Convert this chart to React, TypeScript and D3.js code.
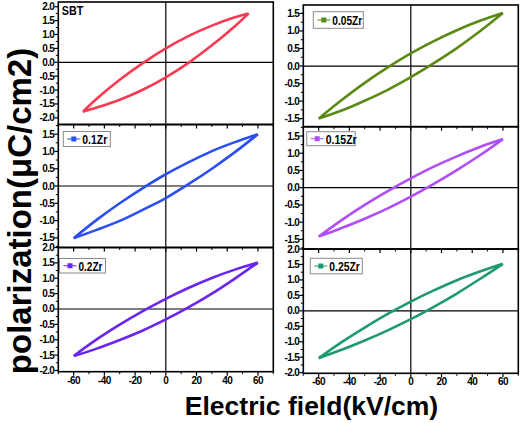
import React from "react";
import * as d3 from "d3";

// ---------- data ----------
const seriesNames = ["SBT", "0.05Zr", "0.1Zr", "0.15Zr", "0.2Zr", "0.25Zr"];
const seriesColors = ["#f83a52", "#5a8a14", "#2b4ef5", "#b04ef7", "#6b26ee", "#1f9970"];

// loop field values (kV/cm): upper branch +Emax -> -Emax, then lower branch back
const fieldSBT = [54, 45, 30, 15, 0, -15, -30, -45, -54, -45, -30, -15, 0, 15, 30, 45, 54];
const fieldZr = [60, 45, 30, 15, 0, -15, -30, -45, -60, -45, -30, -15, 0, 15, 30, 45, 60];

// polarization (µC/cm²)
const polSBT = [1.76, 1.62, 1.32, 0.95, 0.5, -0.03, -0.63, -1.31, -1.78, -1.63, -1.35, -0.99, -0.54, -0.01, 0.61, 1.3, 1.76];
const pol005 = [1.51, 1.29, 1.02, 0.71, 0.36, -0.04, -0.48, -0.97, -1.5, -1.27, -0.99, -0.68, -0.32, 0.08, 0.51, 0.99, 1.51];
const pol010 = [1.5, 1.27, 1.01, 0.69, 0.34, -0.06, -0.5, -0.98, -1.51, -1.27, -1.01, -0.69, -0.35, 0.06, 0.5, 0.98, 1.5];
const pol015 = [1.41, 1.18, 0.91, 0.61, 0.27, -0.1, -0.5, -0.94, -1.42, -1.17, -0.9, -0.6, -0.26, 0.11, 0.51, 0.94, 1.41];
const pol020 = [1.51, 1.28, 1.01, 0.69, 0.33, -0.07, -0.51, -0.99, -1.53, -1.29, -1.01, -0.7, -0.34, 0.06, 0.5, 0.99, 1.51];
const pol025 = [1.52, 1.27, 0.99, 0.66, 0.3, -0.1, -0.54, -1.01, -1.53, -1.26, -0.96, -0.63, -0.27, 0.13, 0.56, 1.03, 1.52];

const seriesFields = [fieldSBT, fieldZr, fieldZr, fieldZr, fieldZr, fieldZr];
const seriesPols = [polSBT, pol005, pol010, pol015, pol020, pol025];

const xTickValues = [-60, -40, -20, 0, 20, 40, 60];
const xTickLabels = ["-60", "-40", "-20", "0", "20", "40", "60"];
const yTicksWide = [-2, -1.5, -1, -0.5, 0, 0.5, 1, 1.5, 2];
const yTicksNarrow = [-1.5, -1, -0.5, 0, 0.5, 1, 1.5];

// ---------- layout ----------
const W = 520, H = 423;
const colRanges: [number, number][] = [[58.3, 273.3], [303.3, 518.3]];
const xDomain: [number, number] = [-70, 70];
type Panel = { col: number; top: number; bottom: number; yd: [number, number]; ticks: number[]; legend: { dx: number; dy: number; w: number; h: number; tw: number } | null; bottomRow: boolean };
const panels: Panel[] = [
  { col: 0, top: 2, bottom: 124.5, yd: [-2.24, 2.17], ticks: yTicksWide, legend: null, bottomRow: false },
  { col: 1, top: 5, bottom: 126.7, yd: [-1.73, 1.74], ticks: yTicksNarrow, legend: { dx: 10, dy: 6.7, w: 50, h: 16.6, tw: 30 }, bottomRow: false },
  { col: 0, top: 124.5, bottom: 247.5, yd: [-1.78, 1.78], ticks: yTicksNarrow, legend: { dx: 5, dy: 7, w: 47, h: 15, tw: 25 }, bottomRow: false },
  { col: 1, top: 126.7, bottom: 249, yd: [-1.78, 1.77], ticks: yTicksNarrow, legend: { dx: 3.4, dy: 5, w: 48.5, h: 14, tw: 31 }, bottomRow: false },
  { col: 0, top: 247.5, bottom: 371.7, yd: [-2.04, 2.0], ticks: yTicksWide, legend: { dx: 1.2, dy: 11, w: 46, h: 14.5, tw: 24 }, bottomRow: true },
  { col: 1, top: 249, bottom: 373.3, yd: [-2.02, 2.0], ticks: yTicksWide, legend: { dx: 7, dy: 9.3, w: 52, h: 15.5, tw: 30.5 }, bottomRow: true },
];

const FONT = "'Liberation Sans', Arial, Helvetica, sans-serif";

function PanelView({ p, i }: { p: Panel; i: number }) {
  const [x0, x1] = colRanges[p.col];
  const x = d3.scaleLinear().domain(xDomain).range([x0, x1]);
  const y = d3.scaleLinear().domain(p.yd).range([p.bottom, p.top]);
  const E = seriesFields[i];
  const P = seriesPols[i];
  const pts: [number, number][] = E.map((e, k) => [e, P[k]]);
  const line = d3
    .line<[number, number]>()
    .x((d) => x(d[0]))
    .y((d) => y(d[1]))
    .curve(d3.curveCatmullRom.alpha(0.5));
  const half = Math.floor(pts.length / 2);
  const d = (line(pts.slice(0, half + 1)) || "") + (line(pts.slice(half)) || "");
  const color = seriesColors[i];

  const minorY: number[] = [];
  for (let v = -2.25; v <= 2.26; v += 0.25) {
    const vv = Math.round(v * 100) / 100;
    if (vv >= p.yd[0] && vv <= p.yd[1] && Math.abs((vv * 2) % 1) > 0.01) minorY.push(vv);
  }
  const minorX = [-70, -50, -30, -10, 10, 30, 50, 70];

  return (
    <g>
      {/* zero lines */}
      <line x1={x0} x2={x1} y1={y(0)} y2={y(0)} stroke="#000" strokeWidth={1.2} />
      <line x1={x(0)} x2={x(0)} y1={p.top} y2={p.bottom} stroke="#000" strokeWidth={1.2} />
      {/* data */}
      <path d={d} fill="none" stroke={color} strokeWidth={2.6} strokeLinejoin="round" />
      {/* frame */}
      <rect x={x0} y={p.top} width={x1 - x0} height={p.bottom - p.top} fill="none" stroke="#000" strokeWidth={1.6} />
      {/* y ticks */}
      {p.ticks.map((t) => (
        <g key={"yt" + t}>
          <line x1={x0 - 4} x2={x0} y1={y(t)} y2={y(t)} stroke="#000" strokeWidth={1.2} />
          <text x={x0 - 4} y={y(t) + 3.5} textAnchor="end" fontFamily={FONT} fontWeight="bold" fontSize={10} letterSpacing={-0.6} fill="#000">
            {t.toFixed(1)}
          </text>
        </g>
      ))}
      {minorY.map((t) => (
        <line key={"ym" + t} x1={x0 - 2.5} x2={x0} y1={y(t)} y2={y(t)} stroke="#000" strokeWidth={1} />
      ))}
      {/* x ticks (outward, bottom) */}
      {xTickValues.map((t) => (
        <line key={"xt" + t} x1={x(t)} x2={x(t)} y1={p.bottom} y2={p.bottom + 4} stroke="#000" strokeWidth={1.2} />
      ))}
      {minorX.map((t) => (
        <line key={"xm" + t} x1={x(t)} x2={x(t)} y1={p.bottom} y2={p.bottom + 2.5} stroke="#000" strokeWidth={1} />
      ))}
      {p.bottomRow &&
        xTickValues.map((t, k) => (
          <text key={"xl" + t} x={x(t)} y={p.bottom + 12} textAnchor="middle" fontFamily={FONT} fontWeight="bold" fontSize={10} letterSpacing={-0.6} fill="#000">
            {xTickLabels[k]}
          </text>
        ))}
      {/* legend */}
      {p.legend ? (
        <g>
          <rect x={x0 + p.legend.dx} y={p.top + p.legend.dy} width={p.legend.w} height={p.legend.h} fill="#fff" stroke="#8a8a8a" strokeWidth={1} />
          <line
            x1={x0 + p.legend.dx + 4}
            x2={x0 + p.legend.dx + 17}
            y1={p.top + p.legend.dy + p.legend.h / 2}
            y2={p.top + p.legend.dy + p.legend.h / 2}
            stroke={color}
            strokeWidth={1}
          />
          <rect x={x0 + p.legend.dx + 8} y={p.top + p.legend.dy + p.legend.h / 2 - 2.5} width={5} height={5} fill={color} />
          <text
            x={x0 + p.legend.dx + 19}
            y={p.top + p.legend.dy + p.legend.h / 2 + 4.8}
            fontFamily={FONT}
            fontWeight="bold"
            fontSize={13.5}
            textLength={p.legend.tw}
            lengthAdjust="spacingAndGlyphs"
            fill="#000"
          >
            {seriesNames[i]}
          </text>
        </g>
      ) : (
        <text x={x0 + 3.5} y={p.top + 13} fontFamily={FONT} fontWeight="bold" fontSize={12.5} textLength={21.5} lengthAdjust="spacingAndGlyphs" fill="#000">
          {seriesNames[i]}
        </text>
      )}
    </g>
  );
}

export default function App() {
  return (
    <svg width={W} height={H} style={{ position: "absolute", left: 0, top: 0, background: "#fff" }}>
      <rect x={0} y={0} width={W} height={H} fill="#fff" />
      {panels.map((p, i) => (
        <PanelView key={i} p={p} i={i} />
      ))}
      <text
        transform={`translate(31,211) rotate(-90)`}
        textAnchor="middle"
        fontFamily={FONT}
        fontWeight="bold"
        fontSize={33}
        fill="#000"
      >
        polarization(μC/cm2)
      </text>
      <text x={311.5} y={415} textAnchor="middle" fontFamily={FONT} fontWeight="bold" fontSize={26.5} fill="#000">
        Electric field(kV/cm)
      </text>
    </svg>
  );
}
